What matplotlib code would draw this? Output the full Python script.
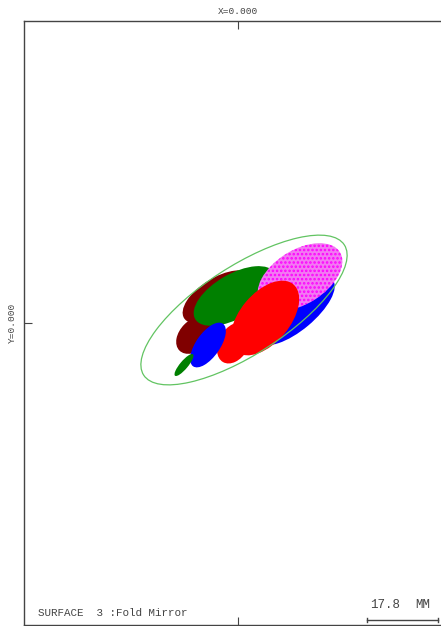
import matplotlib
matplotlib.use("Agg")
import matplotlib.pyplot as plt
from matplotlib.patches import Ellipse

# footprint ellipses on the fold mirror, mm (centre x, centre y, width, height, angle)
fp_x = [-5.0, -10.75, -0.75, 14.5, 15.5, 6.75, -1.0, -7.5, -13.5]
fp_y = [6.5, -3.0, 6.75, 3.0, 11.5, 1.25, -5.0, -5.5, -10.5]
fp_w = [20.0, 11.0, 23.0, 24.0, 23.5, 22.0, 11.0, 13.0, 7.0]
fp_h = [9.5, 7.5, 11.0, 9.5, 13.5, 12.5, 7.5, 6.0, 2.0]
fp_ang = [32, 45, 30, 40, 32, 50, 60, 55, 50]
fp_color = ['#800000', '#800000', '#008000', '#0000ff', '#ff00ff',
            '#ff0000', '#ff0000', '#0000ff', '#008000']

# clear aperture of the mirror
ap_x, ap_y, ap_w, ap_h, ap_ang = 1.5, 3.25, 59.8, 22.0, 33

scale_len = 17.8

fig = plt.figure(figsize=(4.41, 6.26), dpi=100)
ax = fig.add_axes([24/441, 1/626, 428/441, 604/626])
ax.set_xlim(-53.5, 53.5)
ax.set_ylim(-75.5, 75.5)
ax.set_aspect('equal')

plt.rcParams['hatch.linewidth'] = 1.2
for x, y, w, h, a, c in zip(fp_x, fp_y, fp_w, fp_h, fp_ang, fp_color):
    if c == '#ff00ff':
        e = Ellipse((x, y), w, h, angle=a, facecolor='#f27af2', edgecolor=c,
                    hatch='....', lw=0)
    else:
        e = Ellipse((x, y), w, h, angle=a, facecolor=c, edgecolor='none')
    ax.add_patch(e)

ax.add_patch(Ellipse((ap_x, ap_y), ap_w, ap_h, angle=ap_ang, fill=False,
                     edgecolor='#62c462', lw=0.9))

for s in ax.spines.values():
    s.set_color('#444444')
    s.set_linewidth(1.0)
ax.set_xticks([0])
ax.set_yticks([0])
ax.tick_params(direction='in', length=6, color='#444444', top=True,
               labelbottom=False, labelleft=False)

mono = 'Liberation Mono'
fig.text(238/441, 1 - 11/626, 'X=0.000', family=mono, fontsize=6.8,
         color='#444444', ha='center', va='center')
fig.text(12/441, 1 - 323/626, 'Y=0.000', family=mono, fontsize=6.8,
         color='#444444', ha='center', va='center', rotation=90)
fig.text(38/441, 1 - 613/626, 'SURFACE  3 :Fold Mirror', family=mono,
         fontsize=7.8, color='#444444', ha='left', va='center')

# scale bar
x0, x1, yb = 32.2, 32.2 + scale_len, -74.25
ax.plot([x0, x1], [yb, yb], color='#444444', lw=1)
ax.plot([x0, x0], [yb - 0.6, yb + 0.6], color='#444444', lw=1)
ax.plot([x1, x1], [yb - 0.6, yb + 0.6], color='#444444', lw=1)
fig.text(370/441, 1 - 605/626, f'{scale_len:.1f}', family=mono, fontsize=9,
         color='#444444', ha='left', va='center')
fig.text(415/441, 1 - 605/626, 'MM', family=mono, fontsize=9,
         color='#444444', ha='left', va='center')

fig.savefig('out.png', dpi=100)
